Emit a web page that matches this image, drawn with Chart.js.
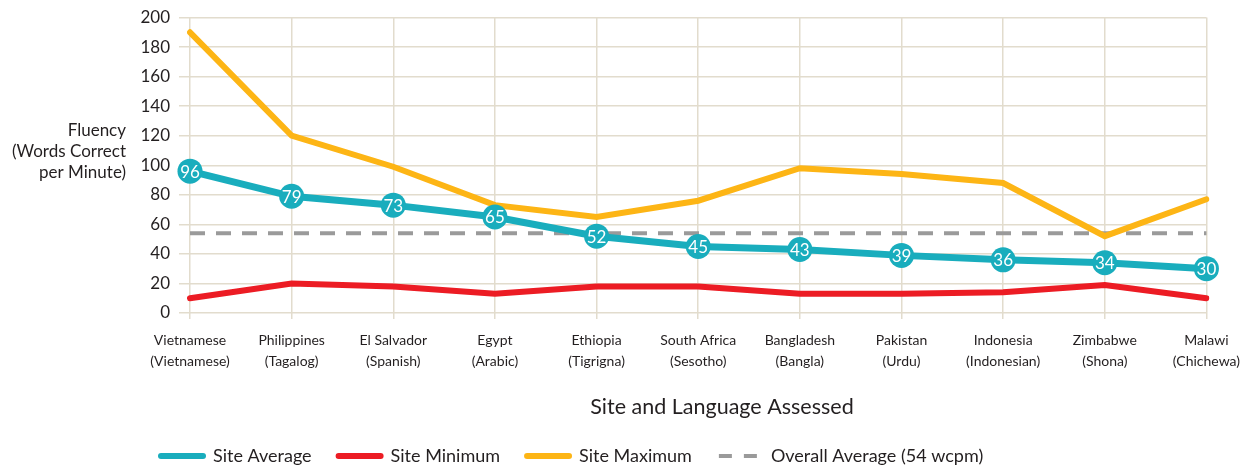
<!DOCTYPE html>
<html>
<head>
<meta charset="utf-8">
<script src="https://cdn.jsdelivr.net/npm/chart.js@4"></script>
<style>
  html, body { margin: 0; padding: 0; background: #fff; }
  #wrap { width: 1251px; height: 470px; }
</style>
</head>
<body>
<div id="wrap"><canvas id="fluencyChart" width="1251" height="470"></canvas></div>
<script>
// Oral reading fluency by site
const sites = [
    ['Vietnamese', '(Vietnamese)'],
    ['Philippines', '(Tagalog)'],
    ['El Salvador', '(Spanish)'],
    ['Egypt', '(Arabic)'],
    ['Ethiopia', '(Tigrigna)'],
    ['South Africa', '(Sesotho)'],
    ['Bangladesh', '(Bangla)'],
    ['Pakistan', '(Urdu)'],
    ['Indonesia', '(Indonesian)'],
    ['Zimbabwe', '(Shona)'],
    ['Malawi', '(Chichewa)']
];
const siteAverage = [96, 79, 73, 65, 52, 45, 43, 39, 36, 34, 30];
const siteMinimum = [10, 20, 18, 13, 18, 18, 13, 13, 14, 19, 10];
const siteMaximum = [190, 120, 99, 73, 65, 76, 98, 94, 88, 52, 77];
const overallAverage = 54;
const yTicks = [0, 20, 40, 60, 80, 100, 120, 140, 160, 180, 200];

const TEAL = '#19adbd';
const RED = '#ec1c24';
const ORANGE = '#fdb515';
const GREY = '#9a9a9a';
const TEXT = '#231f20';
const GRID = '#e2dccd';
const FONT = 'Lato, "Open Sans", sans-serif';

// white value labels inside the average markers
const valueLabels = {
    id: 'valueLabels',
    afterDatasetsDraw(chart) {
        const ctx = chart.ctx;
        const meta = chart.getDatasetMeta(0);
        ctx.save();
        ctx.fillStyle = '#fff';
        ctx.font = '17px ' + FONT;
        ctx.textAlign = 'center';
        ctx.textBaseline = 'middle';
        meta.data.forEach((pt, i) => {
            ctx.fillText(String(siteAverage[i]), pt.x, pt.y + 1);
        });
        ctx.restore();
    }
};

// axis titles and legend
const extras = {
    id: 'extras',
    afterDraw(chart) {
        const ctx = chart.ctx;
        ctx.save();
        ctx.fillStyle = TEXT;
        ctx.textBaseline = 'middle';

        ctx.font = '17px ' + FONT;
        ctx.textAlign = 'right';
        ['Fluency', '(Words Correct', 'per Minute)'].forEach((t, i) => {
            ctx.fillText(t, 126, 131 + i * 21);
        });

        ctx.font = '21.5px ' + FONT;
        ctx.textAlign = 'center';
        ctx.fillText('Site and Language Assessed', 722, 407);

        const items = [
            { text: 'Site Average', color: TEAL, dash: [] },
            { text: 'Site Minimum', color: RED, dash: [] },
            { text: 'Site Maximum', color: ORANGE, dash: [] },
            { text: 'Overall Average (54 wcpm)', color: GREY, dash: [13, 12] }
        ];
        const y = 456;
        let x = 161;
        ctx.font = '18px ' + FONT;
        ctx.textAlign = 'left';
        items.forEach(it => {
            ctx.beginPath();
            ctx.strokeStyle = it.color;
            ctx.lineWidth = it.dash.length ? 4 : 6;
            ctx.lineCap = it.dash.length ? 'butt' : 'round';
            ctx.setLineDash(it.dash);
            ctx.moveTo(x, y);
            ctx.lineTo(x + 42, y);
            ctx.stroke();
            ctx.setLineDash([]);
            ctx.fillText(it.text, x + 52, y);
            x += 52 + ctx.measureText(it.text).width + 27;
        });
        ctx.restore();
    }
};

const ctx = document.getElementById('fluencyChart').getContext('2d');
const fluencyChart = new Chart(ctx, {
    type: 'line',
    data: {
        labels: sites,
        datasets: [{
            label: 'Site Average',
            data: siteAverage,
            borderColor: TEAL,
            backgroundColor: TEAL,
            borderWidth: 7,
            pointRadius: 12.5,
            pointBorderWidth: 0,
            pointBackgroundColor: TEAL,
            clip: false,
            order: 1
        }, {
            label: 'Site Minimum',
            data: siteMinimum,
            borderColor: RED,
            borderWidth: 6,
            pointRadius: 0,
            borderCapStyle: 'round',
            order: 2
        }, {
            label: 'Site Maximum',
            data: siteMaximum,
            borderColor: ORANGE,
            borderWidth: 6,
            pointRadius: 0,
            borderCapStyle: 'round',
            order: 3
        }, {
            label: 'Overall Average (54 wcpm)',
            data: sites.map(() => overallAverage),
            borderColor: GREY,
            borderWidth: 4,
            borderDash: [15, 11],
            pointRadius: 0,
            order: 4
        }]
    },
    options: {
        responsive: false,
        animation: false,
        events: [],
        layout: { padding: { top: 15, right: 40, left: 0, bottom: 0 } },
        plugins: {
            legend: { display: false },
            tooltip: { enabled: false }
        },
        scales: {
            x: {
                offset: false,
                grid: { color: GRID, lineWidth: 1.5, tickLength: 6 },
                border: { display: false },
                ticks: {
                    color: TEXT,
                    font: { family: FONT, size: 14, lineHeight: 1.5 },
                    padding: 11,
                    maxRotation: 0,
                    autoSkip: false
                },
                afterFit(scale) { scale.height = 157; }
            },
            y: {
                min: 0,
                max: 200,
                afterBuildTicks(scale) { scale.ticks = yTicks.map(v => ({ value: v })); },
                grid: { color: GRID, lineWidth: 1.5, tickLength: 11 },
                border: { display: false },
                ticks: {
                    color: TEXT,
                    font: { family: FONT, size: 17, lineHeight: 1 },
                    padding: 9
                },
                afterFit(scale) { scale.width = 190; }
            }
        }
    },
    plugins: [valueLabels, extras]
});
</script>
</body>
</html>
